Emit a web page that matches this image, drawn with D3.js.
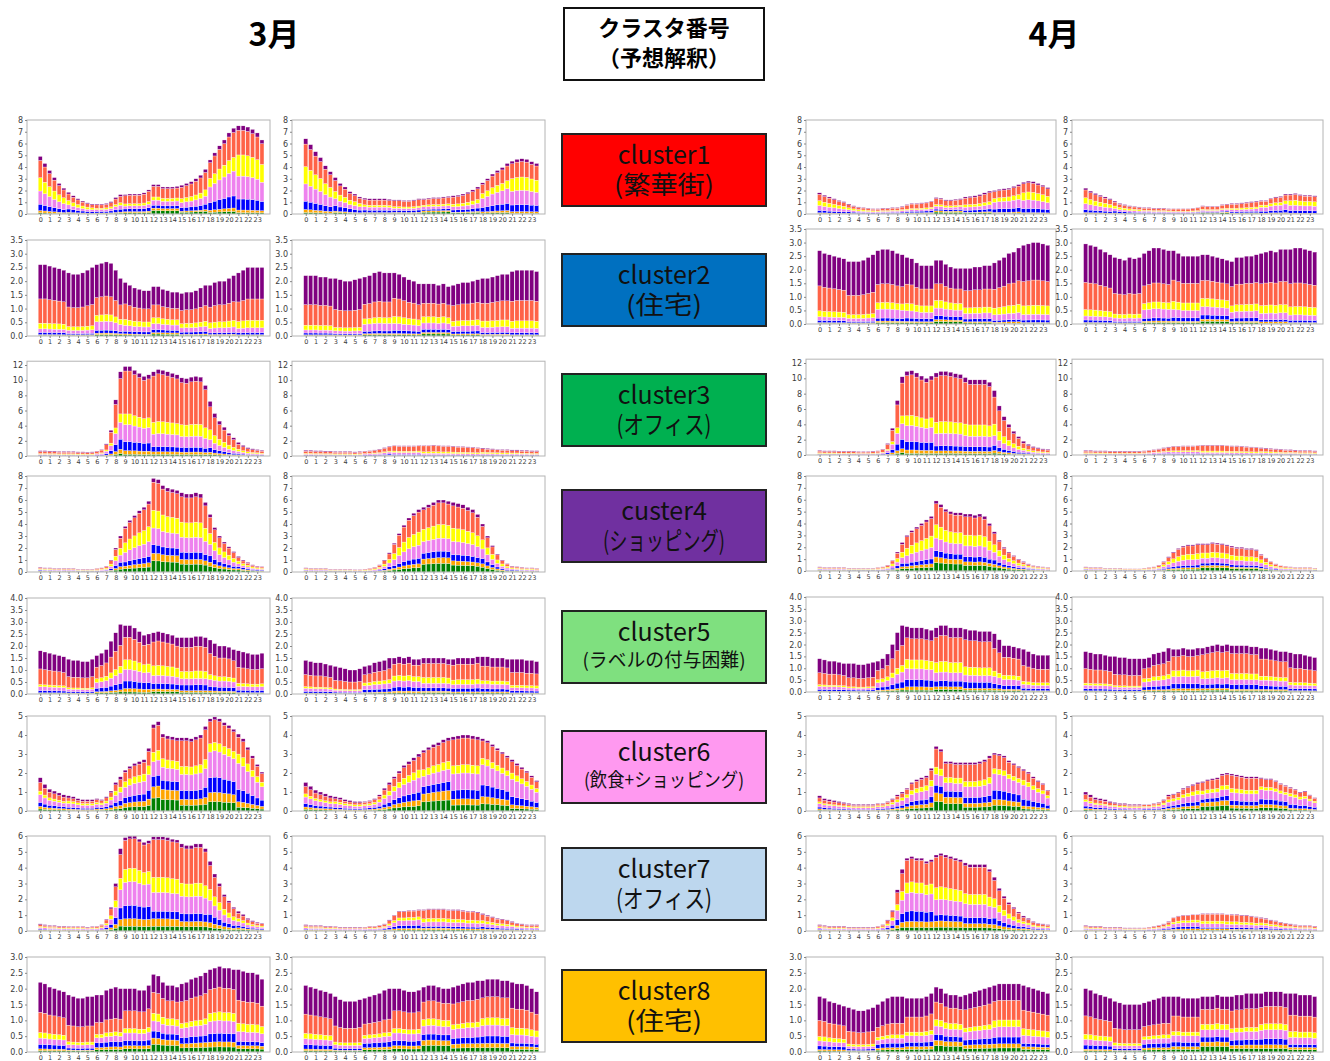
<!DOCTYPE html>
<html>
<head>
<meta charset="utf-8">
<script src="https://cdn.jsdelivr.net/npm/d3@7"></script>
<style>
  body { margin: 0; background: #fff; }
  svg { display: block; }
</style>
</head>
<body>
<div id="chart"></div>
<script>
// hour tick labels (48 half-hour bars, one label every 2 bars)
var hourLabels = ["0","1","2","3","4","5","6","7","8","9","10","11","12","13","14","15","16","17","18","19","20","21","22","23"];

// stack layers, bottom to top
var layerKeys = ["green", "orange", "blue", "violet", "yellow", "tomato", "purple"];

// totals per bar (top of each stacked bar), 48 half-hours
// marA / marB = 3月 left / right, aprA / aprB = 4月 left / right
var c1_marA = [4.9,4.3,3.7,3.1,2.6,2.2,1.85,1.55,1.3,1.1,0.95,0.85,0.85,0.85,0.9,1.05,1.4,1.65,1.65,1.7,1.7,1.7,1.8,2.05,2.5,2.5,2.3,2.3,2.3,2.35,2.45,2.6,2.75,3.0,3.3,3.8,4.6,5.2,5.8,6.3,6.9,7.3,7.5,7.5,7.4,7.2,6.9,6.3];
var c1_marB = [6.4,5.9,5.3,4.8,4.1,3.6,3.1,2.6,2.3,1.9,1.7,1.45,1.35,1.3,1.3,1.3,1.3,1.25,1.2,1.2,1.15,1.15,1.2,1.3,1.3,1.35,1.4,1.4,1.45,1.5,1.55,1.6,1.7,1.85,2.05,2.3,2.65,3.0,3.4,3.7,3.95,4.3,4.5,4.65,4.7,4.65,4.45,4.3];
var c1_aprA = [1.8,1.6,1.45,1.3,1.15,1.05,0.85,0.7,0.6,0.55,0.5,0.45,0.45,0.5,0.5,0.55,0.55,0.65,0.8,0.9,0.9,0.95,1.0,1.1,1.4,1.35,1.2,1.2,1.25,1.3,1.45,1.5,1.55,1.65,1.8,1.95,2.0,2.1,2.15,2.2,2.35,2.5,2.7,2.8,2.75,2.6,2.45,2.25];
var c1_aprB = [2.2,1.95,1.75,1.6,1.45,1.3,1.1,0.9,0.8,0.7,0.65,0.6,0.55,0.55,0.5,0.5,0.5,0.45,0.45,0.45,0.45,0.45,0.5,0.55,0.7,0.65,0.65,0.65,0.8,0.85,0.9,0.9,0.95,1.0,1.05,1.1,1.15,1.15,1.35,1.45,1.5,1.7,1.7,1.75,1.65,1.6,1.6,1.55];

var c2_marA = [2.6,2.6,2.55,2.5,2.45,2.4,2.3,2.25,2.25,2.3,2.4,2.5,2.6,2.65,2.7,2.65,2.4,2.1,1.95,1.85,1.75,1.7,1.65,1.65,1.8,1.8,1.7,1.65,1.6,1.6,1.55,1.6,1.6,1.65,1.75,1.85,1.85,1.95,2.0,2.0,2.1,2.2,2.3,2.4,2.5,2.5,2.5,2.5];
var c2_marB = [2.2,2.2,2.2,2.15,2.15,2.1,2.1,2.05,2.0,2.0,2.05,2.1,2.15,2.2,2.3,2.35,2.3,2.3,2.3,2.25,2.15,2.05,2.0,1.9,1.9,1.9,1.9,1.85,1.9,1.8,1.85,1.9,1.95,1.95,2.0,2.05,2.1,2.1,2.15,2.2,2.25,2.25,2.35,2.4,2.4,2.4,2.4,2.35];
var c2_aprA = [2.7,2.6,2.55,2.5,2.45,2.4,2.3,2.3,2.3,2.35,2.45,2.55,2.7,2.75,2.75,2.7,2.6,2.55,2.45,2.4,2.25,2.15,2.15,2.15,2.35,2.35,2.2,2.1,2.05,2.05,2.05,2.05,2.1,2.1,2.15,2.15,2.25,2.35,2.45,2.6,2.65,2.8,2.9,2.95,3.0,3.0,2.95,2.9];
var c2_aprB = [2.95,2.9,2.85,2.75,2.65,2.55,2.45,2.4,2.35,2.45,2.4,2.45,2.6,2.7,2.8,2.8,2.75,2.7,2.7,2.6,2.5,2.5,2.5,2.5,2.55,2.55,2.5,2.45,2.4,2.35,2.3,2.45,2.45,2.5,2.5,2.55,2.6,2.65,2.7,2.65,2.75,2.75,2.75,2.8,2.8,2.75,2.7,2.65];

var c3_marA = [0.7,0.7,0.65,0.65,0.6,0.6,0.6,0.6,0.55,0.55,0.5,0.55,0.65,0.85,1.6,3.4,7.4,11.1,11.8,11.8,11.3,10.9,10.5,10.7,11.1,11.4,11.3,11.1,10.9,10.7,10.3,10.2,10.4,10.5,10.4,9.3,7.2,5.6,4.6,3.8,3.0,2.4,1.8,1.4,1.1,0.95,0.85,0.75];
var c3_marB = [0.75,0.75,0.7,0.7,0.65,0.65,0.6,0.6,0.6,0.6,0.55,0.6,0.65,0.7,0.8,0.9,1.1,1.3,1.4,1.35,1.35,1.35,1.35,1.4,1.4,1.4,1.45,1.4,1.35,1.35,1.3,1.25,1.25,1.2,1.15,1.1,1.05,1.0,0.95,0.9,0.85,0.85,0.8,0.8,0.75,0.75,0.7,0.7];
var c3_aprA = [0.6,0.55,0.55,0.55,0.5,0.5,0.5,0.5,0.45,0.45,0.45,0.5,0.55,0.75,1.5,3.5,7.1,10.2,10.9,11.0,10.7,10.3,10.0,10.3,10.7,10.9,10.9,10.8,10.6,10.5,10.1,9.8,9.8,9.8,9.8,9.5,8.4,6.4,5.0,4.0,3.1,2.4,1.8,1.4,1.1,0.95,0.8,0.75];
var c3_aprB = [0.6,0.6,0.55,0.55,0.55,0.5,0.5,0.5,0.5,0.5,0.5,0.5,0.55,0.6,0.7,0.8,0.95,1.05,1.15,1.15,1.2,1.2,1.2,1.25,1.3,1.3,1.3,1.3,1.3,1.25,1.2,1.2,1.15,1.1,1.05,1.0,0.95,0.9,0.85,0.8,0.75,0.7,0.7,0.65,0.6,0.6,0.6,0.55];

var c4_marA = [0.4,0.35,0.35,0.3,0.3,0.3,0.3,0.3,0.25,0.25,0.25,0.25,0.3,0.35,0.5,1.0,2.0,3.0,3.8,4.3,4.7,5.1,5.4,5.9,7.8,7.7,7.2,7.0,6.9,6.8,6.6,6.5,6.5,6.6,6.5,5.8,4.8,3.7,3.0,2.5,2.1,1.7,1.3,1.0,0.8,0.6,0.5,0.45];
var c4_marB = [0.35,0.3,0.3,0.3,0.3,0.25,0.25,0.25,0.25,0.25,0.2,0.2,0.25,0.3,0.4,0.6,1.0,1.6,2.4,3.2,3.9,4.5,4.9,5.2,5.4,5.6,5.8,6.0,6.0,5.9,5.8,5.7,5.6,5.4,5.2,4.8,4.0,3.0,2.2,1.5,1.0,0.7,0.5,0.45,0.4,0.35,0.35,0.3];
var c4_aprA = [0.35,0.3,0.3,0.3,0.3,0.3,0.25,0.25,0.25,0.25,0.25,0.25,0.3,0.35,0.5,0.9,1.6,2.4,3.0,3.4,3.7,4.0,4.3,4.6,5.9,5.6,5.2,5.0,4.9,4.9,4.8,4.8,4.7,4.8,4.6,4.0,3.3,2.6,2.0,1.6,1.3,1.0,0.8,0.6,0.45,0.4,0.35,0.3];
var c4_aprB = [0.35,0.3,0.3,0.3,0.25,0.25,0.25,0.25,0.2,0.2,0.2,0.2,0.25,0.3,0.35,0.5,0.8,1.2,1.6,1.9,2.1,2.2,2.2,2.3,2.3,2.3,2.4,2.35,2.3,2.2,2.1,2.0,2.0,1.9,1.9,1.8,1.4,1.1,0.8,0.6,0.45,0.4,0.35,0.3,0.3,0.3,0.3,0.25];

var c5_marA = [1.8,1.75,1.7,1.65,1.6,1.55,1.45,1.4,1.4,1.35,1.35,1.45,1.6,1.7,1.85,2.2,2.55,2.9,2.85,2.85,2.75,2.6,2.45,2.5,2.55,2.6,2.55,2.5,2.45,2.35,2.35,2.35,2.35,2.4,2.4,2.35,2.25,2.1,2.0,2.0,1.95,1.85,1.8,1.75,1.7,1.65,1.65,1.7];
var c5_marB = [1.4,1.35,1.3,1.3,1.25,1.2,1.15,1.1,1.05,1.0,1.0,1.05,1.15,1.2,1.3,1.35,1.4,1.5,1.5,1.55,1.5,1.55,1.45,1.45,1.5,1.5,1.5,1.5,1.5,1.45,1.45,1.5,1.5,1.5,1.5,1.55,1.55,1.55,1.5,1.5,1.5,1.45,1.45,1.45,1.45,1.4,1.4,1.35];
var c5_aprA = [1.4,1.35,1.3,1.3,1.25,1.2,1.2,1.2,1.15,1.15,1.2,1.25,1.3,1.4,1.6,2.0,2.5,2.8,2.75,2.7,2.7,2.7,2.65,2.6,2.7,2.8,2.8,2.7,2.7,2.7,2.65,2.6,2.6,2.55,2.55,2.55,2.45,2.2,1.95,1.95,1.9,1.85,1.8,1.7,1.6,1.55,1.55,1.55];
var c5_aprB = [1.7,1.65,1.6,1.6,1.55,1.5,1.5,1.45,1.45,1.4,1.4,1.4,1.4,1.45,1.6,1.65,1.7,1.85,1.8,1.8,1.85,1.8,1.8,1.85,1.85,1.9,1.95,2.0,1.95,2.0,1.95,1.95,1.95,1.95,1.9,1.9,1.85,1.85,1.8,1.75,1.7,1.7,1.65,1.6,1.6,1.55,1.5,1.45];

var c6_marA = [1.75,1.4,1.15,1.05,0.95,0.85,0.8,0.75,0.65,0.6,0.6,0.6,0.65,0.6,0.75,1.05,1.5,1.8,2.15,2.35,2.5,2.6,2.7,3.3,4.55,4.7,4.05,3.95,3.9,3.85,3.85,3.85,3.8,3.9,4.0,4.45,4.85,4.95,4.85,4.65,4.5,4.3,4.05,3.8,3.35,2.9,2.45,2.05];
var c6_marB = [1.5,1.3,1.1,1.0,0.9,0.8,0.75,0.7,0.6,0.55,0.5,0.5,0.5,0.55,0.65,0.85,1.2,1.5,1.8,2.1,2.4,2.6,2.8,3.0,3.2,3.35,3.5,3.6,3.75,3.85,3.9,3.95,4.0,4.0,3.95,3.9,3.8,3.7,3.5,3.3,3.1,2.9,2.7,2.5,2.3,2.1,1.85,1.6];
var c6_aprA = [0.8,0.65,0.6,0.55,0.5,0.45,0.4,0.35,0.35,0.35,0.35,0.35,0.4,0.4,0.5,0.65,0.85,1.0,1.2,1.5,1.65,1.75,1.85,2.25,3.4,3.25,2.6,2.6,2.55,2.55,2.55,2.55,2.55,2.6,2.7,2.9,3.05,3.0,2.9,2.65,2.5,2.35,2.2,2.05,1.8,1.6,1.45,1.1];
var c6_aprB = [1.0,0.85,0.7,0.65,0.6,0.5,0.45,0.4,0.4,0.35,0.35,0.35,0.35,0.35,0.4,0.45,0.6,0.85,0.9,1.0,1.2,1.3,1.4,1.5,1.55,1.65,1.7,1.75,1.95,2.0,1.95,1.9,1.85,1.8,1.8,1.8,1.75,1.7,1.7,1.6,1.45,1.35,1.25,1.15,1.0,1.05,0.85,0.7];

var c7_marA = [0.45,0.4,0.35,0.35,0.3,0.3,0.3,0.3,0.3,0.3,0.25,0.3,0.3,0.4,0.75,1.5,3.0,5.2,5.9,6.0,6.0,5.8,5.6,5.7,5.95,5.95,5.95,5.9,5.8,5.75,5.5,5.4,5.4,5.5,5.5,5.2,4.4,3.6,3.0,2.3,1.9,1.5,1.25,1.05,0.8,0.65,0.55,0.5];
var c7_marB = [0.4,0.35,0.35,0.35,0.3,0.3,0.3,0.25,0.25,0.25,0.25,0.25,0.25,0.3,0.3,0.35,0.45,0.7,1.0,1.25,1.25,1.3,1.3,1.35,1.35,1.4,1.4,1.4,1.4,1.35,1.35,1.35,1.3,1.25,1.25,1.2,1.1,1.0,0.9,0.8,0.75,0.7,0.6,0.5,0.45,0.4,0.4,0.4];
var c7_aprA = [0.4,0.35,0.3,0.3,0.3,0.3,0.25,0.25,0.25,0.25,0.25,0.25,0.3,0.4,0.7,1.3,2.6,3.9,4.6,4.7,4.6,4.6,4.4,4.5,4.8,4.9,4.8,4.7,4.6,4.5,4.3,4.2,4.2,4.2,4.2,3.9,3.4,2.7,2.2,1.8,1.5,1.2,0.95,0.8,0.6,0.5,0.45,0.4];
var c7_aprB = [0.35,0.3,0.3,0.3,0.25,0.25,0.25,0.25,0.2,0.2,0.2,0.2,0.2,0.25,0.3,0.35,0.45,0.6,0.85,0.95,1.0,1.0,1.05,1.05,1.1,1.1,1.1,1.1,1.1,1.05,1.05,1.05,1.0,1.0,0.95,0.9,0.85,0.8,0.7,0.65,0.55,0.5,0.45,0.4,0.35,0.35,0.35,0.3];

var c8_marA = [2.2,2.15,2.05,2.0,1.95,1.9,1.8,1.75,1.7,1.7,1.75,1.75,1.8,1.8,1.95,2.0,2.05,2.0,2.0,2.0,2.0,1.95,1.95,2.1,2.45,2.4,2.2,2.1,2.1,2.05,2.15,2.2,2.3,2.35,2.4,2.5,2.6,2.65,2.7,2.65,2.65,2.6,2.6,2.55,2.5,2.5,2.45,2.3];
var c8_marB = [2.1,2.05,2.0,1.95,1.9,1.85,1.75,1.65,1.6,1.6,1.6,1.65,1.7,1.75,1.8,1.85,1.95,2.0,2.0,2.0,1.95,1.9,1.9,1.95,2.05,2.1,2.1,2.05,2.0,2.0,2.05,2.1,2.15,2.2,2.2,2.25,2.25,2.3,2.3,2.3,2.25,2.25,2.2,2.15,2.15,2.1,2.0,1.9];
var c8_aprA = [1.75,1.7,1.6,1.55,1.5,1.45,1.4,1.35,1.3,1.3,1.35,1.4,1.5,1.6,1.7,1.75,1.75,1.75,1.7,1.7,1.7,1.7,1.75,1.85,2.05,2.0,1.85,1.8,1.8,1.75,1.8,1.85,1.9,1.95,2.0,2.05,2.1,2.15,2.15,2.15,2.15,2.15,2.1,2.05,2.0,1.95,1.9,1.85];
var c8_aprB = [2.0,1.95,1.85,1.8,1.75,1.7,1.6,1.55,1.5,1.5,1.5,1.5,1.55,1.6,1.65,1.7,1.75,1.75,1.75,1.75,1.7,1.7,1.7,1.7,1.75,1.75,1.75,1.8,1.75,1.75,1.75,1.8,1.8,1.85,1.85,1.85,1.85,1.9,1.9,1.9,1.9,1.85,1.85,1.85,1.8,1.8,1.8,1.75];

// cumulative share of the lower six layers, per 3-hour block (0-2h, 3-5h, ... 21-23h)
var c1_share = [[.02,.06,.17,.40,.63,.93],[.04,.08,.23,.42,.62,.92],[.05,.10,.25,.45,.58,.91],[.06,.12,.26,.41,.52,.94],[.12,.20,.30,.47,.58,.94],[.06,.10,.22,.40,.54,.93],[.03,.07,.21,.50,.66,.95],[.015,.045,.17,.43,.67,.95]];
var c2_share = [[.01,.02,.05,.10,.18,.52],[.01,.02,.04,.09,.15,.46],[.02,.04,.08,.20,.29,.54],[.02,.04,.09,.20,.31,.60],[.04,.07,.13,.25,.37,.63],[.02,.04,.09,.19,.29,.60],[.01,.03,.06,.15,.26,.57],[.01,.02,.05,.12,.23,.54]];
var c3_share = [[.04,.09,.18,.33,.48,.85],[.04,.09,.18,.33,.48,.85],[.03,.08,.20,.40,.50,.92],[.02,.06,.16,.35,.47,.95],[.02,.05,.11,.26,.40,.95],[.02,.05,.11,.25,.40,.94],[.03,.07,.15,.30,.48,.90],[.04,.09,.18,.34,.50,.86]];
var c4_share = [[.15,.25,.40,.55,.70,.90],[.15,.25,.40,.55,.70,.90],[.08,.15,.27,.47,.66,.94],[.07,.13,.22,.43,.64,.96],[.12,.20,.29,.47,.66,.96],[.10,.16,.25,.44,.63,.95],[.10,.17,.28,.48,.67,.95],[.13,.22,.35,.52,.70,.92]];
var c5_share = [[.02,.03,.08,.17,.22,.58],[.02,.03,.07,.14,.18,.50],[.03,.06,.15,.30,.40,.70],[.03,.08,.19,.36,.50,.83],[.04,.08,.17,.30,.46,.85],[.03,.06,.16,.27,.40,.83],[.03,.06,.14,.27,.36,.75],[.02,.035,.09,.18,.25,.62]];
var c6_share = [[.06,.14,.26,.49,.60,.86],[.05,.13,.25,.50,.66,.86],[.07,.16,.30,.55,.70,.92],[.09,.19,.33,.58,.72,.95],[.15,.28,.40,.57,.68,.96],[.08,.16,.28,.50,.61,.96],[.10,.20,.36,.64,.73,.97],[.05,.12,.28,.62,.74,.96]];
var c7_share = [[.10,.20,.30,.50,.65,.88],[.10,.20,.30,.50,.65,.86],[.06,.14,.28,.50,.64,.93],[.05,.13,.27,.52,.66,.97],[.05,.13,.21,.41,.57,.97],[.05,.11,.20,.40,.55,.96],[.05,.12,.24,.44,.60,.94],[.08,.16,.28,.48,.63,.90]];
var c8_share = [[.02,.045,.11,.20,.28,.57],[.02,.035,.07,.13,.18,.47],[.04,.08,.16,.25,.31,.52],[.05,.10,.18,.30,.37,.65],[.10,.18,.27,.40,.50,.77],[.06,.12,.21,.35,.42,.74],[.06,.12,.22,.37,.47,.76],[.04,.08,.13,.25,.35,.63]];

// y axis per cluster row: top tick, tick step, axis max
var yTop  = [8, 3.5, 12, 8, 4.0, 5, 6, 3.0];
var yStep = [1, 0.5, 2, 1, 0.5, 1, 1, 0.5];
var yMax  = [8, 3.5, 12.5, 8, 4.0, 5, 6, 3.0];

// middle column labels
var clusterNames = ["cluster1","cluster2","cluster3","custer4","cluster5","cluster6","cluster7","cluster8"];
var clusterNotes = ["(繁華街)","(住宅)","(オフィス)","(ショッピング)","(ラベルの付与困難)","(飲食+ショッピング)","(オフィス)","(住宅)"];
var clusterColors = ["#ff0000","#0070c0","#00b050","#7030a0","#7fe07f","#ff99f0","#bdd7ee","#ffc000"];

var totals = [
  [c1_marA, c1_marB, c1_aprA, c1_aprB],
  [c2_marA, c2_marB, c2_aprA, c2_aprB],
  [c3_marA, c3_marB, c3_aprA, c3_aprB],
  [c4_marA, c4_marB, c4_aprA, c4_aprB],
  [c5_marA, c5_marB, c5_aprA, c5_aprB],
  [c6_marA, c6_marB, c6_aprA, c6_aprB],
  [c7_marA, c7_marB, c7_aprA, c7_aprB],
  [c8_marA, c8_marB, c8_aprA, c8_aprB]
];
var shares = [c1_share, c2_share, c3_share, c4_share, c5_share, c6_share, c7_share, c8_share];

var colors = {green:"#008000", orange:"#ffa500", blue:"#0000ff", violet:"#ee82ee", yellow:"#ffff00", tomato:"#ff6347", purple:"#800080"};

// layout (pixels)
var colX = [[27,270],[292,545],[806,1056],[1072,1323]];
// [pixel of top tick, pixel of zero] for left pair (3月) and right pair (4月)
var rowLeft  = [[120,214],[240,336],[365,456],[476,572],[598,694],[716,811],[836,931],[957,1052]];
var rowRight = [[120,214],[229,324],[363,455],[476,571],[597,692],[716,811],[836,931],[957,1052]];
var boxTop = [134,254,374,490,611,731,848,970];
// note line: font size and drawn width
var noteSize  = [25, 25, 25, 25, 19, 19, 25, 25];
var noteWidth = [100, 76, 95, 122, 163, 160, 96, 76];

var svg = d3.select("#chart").append("svg")
  .attr("width", 1330)
  .attr("height", 1061);

function drawPanel(r, c) {
  var vals = totals[r][c];
  var share = shares[r];
  var rowPx = c < 2 ? rowLeft[r] : rowRight[r];

  var x = d3.scaleLinear().domain([-2.8, 48.7]).range(colX[c]);
  var y = d3.scaleLinear().domain([0, yTop[r]]).range([rowPx[1], rowPx[0]]);

  // split each total into layers
  var table = vals.map(function(t, i) {
    var cum = share[Math.floor(i / 6)];
    var row = {i: i};
    var prev = 0;
    for (var k = 0; k < 6; k++) {
      row[layerKeys[k]] = t * (cum[k] - prev);
      prev = cum[k];
    }
    row.purple = t * (1 - prev);
    return row;
  });

  var series = d3.stack().keys(layerKeys)(table);
  var bw = x(0.84) - x(0);

  var g = svg.append("g");

  g.selectAll("g.layer")
    .data(series)
    .enter()
    .append("g")
      .attr("fill", function(s) { return colors[s.key]; })
    .selectAll("rect")
    .data(function(s) { return s; })
    .enter()
    .append("rect")
      .attr("x", function(d) { return x(d.data.i) - bw / 2; })
      .attr("y", function(d) { return y(d[1]); })
      .attr("width", bw)
      .attr("height", function(d) { return Math.max(0, y(d[0]) - y(d[1])); })
      .attr("stroke", "#ffffff")
      .attr("stroke-width", 0.3);

  // frame
  g.append("rect")
    .attr("x", colX[c][0])
    .attr("y", y(yMax[r]))
    .attr("width", colX[c][1] - colX[c][0])
    .attr("height", y(0) - y(yMax[r]))
    .attr("fill", "none")
    .attr("stroke", "#b4b4b4")
    .attr("stroke-width", 1);

  // y axis
  var ticks = d3.range(0, yTop[r] + yStep[r] / 2, yStep[r]);
  var fmt = yStep[r] < 1 ? d3.format(".1f") : d3.format("d");
  var yAxis = g.append("g")
    .attr("transform", "translate(" + colX[c][0] + ",0)")
    .call(d3.axisLeft(y).tickValues(ticks).tickFormat(fmt).tickSize(2).tickPadding(2));
  yAxis.select(".domain").remove();
  yAxis.selectAll("line").attr("stroke", "#888");
  yAxis.selectAll("text")
    .style("font-family", "DejaVu Sans, sans-serif")
    .style("font-size", "8px")
    .attr("fill", "#3c3c3c");

  // x axis
  var xTicks = d3.range(0, 48, 2);
  var xAxis = g.append("g")
    .attr("transform", "translate(0," + y(0) + ")")
    .call(d3.axisBottom(x).tickValues(xTicks).tickFormat(function(i) { return hourLabels[i / 2]; }).tickSize(2).tickPadding(1));
  xAxis.select(".domain").remove();
  xAxis.selectAll("line").attr("stroke", "#888");
  xAxis.selectAll("text")
    .style("font-family", "DejaVu Sans, sans-serif")
    .style("font-size", "6.5px")
    .attr("fill", "#3c3c3c");
}

for (var r = 0; r < 8; r++) {
  for (var c = 0; c < 4; c++) {
    drawPanel(r, c);
  }
}

// month titles
svg.append("text")
  .attr("x", 274).attr("y", 37)
  .attr("text-anchor", "middle").attr("dominant-baseline", "middle")
  .style("font-family", "Noto Sans CJK JP, sans-serif")
  .style("font-weight", "bold").style("font-size", "32px")
  .text("3月");
svg.append("text")
  .attr("x", 1054).attr("y", 37)
  .attr("text-anchor", "middle").attr("dominant-baseline", "middle")
  .style("font-family", "Noto Sans CJK JP, sans-serif")
  .style("font-weight", "bold").style("font-size", "32px")
  .text("4月");

// header box
svg.append("rect")
  .attr("x", 564).attr("y", 8).attr("width", 200).attr("height", 72)
  .attr("fill", "#fff").attr("stroke", "#111").attr("stroke-width", 2);
svg.append("text")
  .attr("x", 664).attr("y", 30)
  .attr("text-anchor", "middle").attr("dominant-baseline", "middle")
  .style("font-family", "Noto Sans CJK JP, sans-serif")
  .style("font-weight", "bold").style("font-size", "22px")
  .text("クラスタ番号");
svg.append("text")
  .attr("x", 664).attr("y", 60)
  .attr("text-anchor", "middle").attr("dominant-baseline", "middle")
  .style("font-family", "Noto Sans CJK JP, sans-serif")
  .style("font-weight", "bold").style("font-size", "22px")
  .text("（予想解釈）");

// cluster boxes
clusterNames.forEach(function(name, i) {
  var top = boxTop[i];
  svg.append("rect")
    .attr("x", 562).attr("y", top).attr("width", 204).attr("height", 72)
    .attr("fill", clusterColors[i]).attr("stroke", "#222").attr("stroke-width", 2);
  svg.append("text")
    .attr("x", 664).attr("y", top + 23)
    .attr("text-anchor", "middle").attr("dominant-baseline", "middle")
    .style("font-family", "Noto Sans CJK JP, sans-serif")
    .style("font-size", "25px")
    .attr("fill", "#111")
    .text(name);
  var small = noteSize[i] < 25;
  svg.append("text")
    .attr("x", 664 - noteWidth[i] / 2).attr("y", top + (small ? 51 : 53))
    .attr("dominant-baseline", "middle")
    .attr("textLength", noteWidth[i])
    .attr("lengthAdjust", "spacingAndGlyphs")
    .style("font-family", "Noto Sans CJK JP, sans-serif")
    .style("font-size", noteSize[i] + "px")
    .attr("fill", "#111")
    .text(clusterNotes[i]);
});
</script>
</body>
</html>
